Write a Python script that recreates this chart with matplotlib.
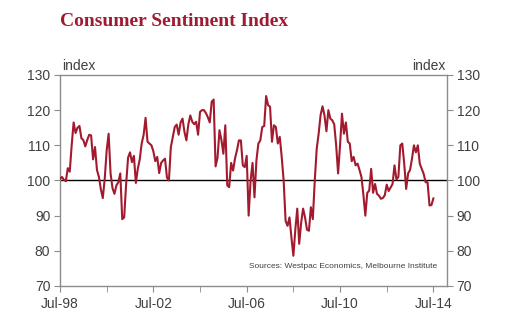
import numpy as np
import matplotlib
matplotlib.use("Agg")
import matplotlib.pyplot as plt

# Westpac-Melbourne Institute consumer sentiment, monthly from Jul-98 to Jul-14
y1998 = [100.5, 101, 100.2, 99.8, 103.5, 102.5]
y1999 = [110, 116.5, 113.5, 115, 115.5, 112, 111.5, 109.7, 111.5, 113, 112.8, 106]
y2000 = [109.5, 103, 101, 97.5, 95, 100.5, 108.6, 113.3, 102, 97.8, 96.2, 98.6]
y2001 = [99.5, 102, 89, 89.5, 99, 106.5, 108, 105.2, 107, 99.3, 103.3, 106]
y2002 = [110.5, 113, 117.8, 111, 110.5, 110, 108.3, 105.5, 106.7, 102.1, 105, 105.7]
y2003 = [106.2, 100.8, 100, 109.5, 112.4, 115.2, 115.9, 113, 116.5, 117.6, 113.8, 111.4]
y2004 = [116, 118.5, 116.7, 116, 116.7, 113, 119.5, 120, 120, 119.2, 118, 116.5]
y2005 = [122.4, 123, 104, 106.5, 114.3, 111.5, 107.6, 115.7, 98.6, 98.1, 105, 102.8]
y2006 = [106.3, 108.6, 111.4, 111.4, 104.3, 103.8, 107, 90, 100, 105, 95.2, 105.7]
y2007 = [110.5, 111.4, 115.2, 115.5, 124, 121.4, 121, 111, 115.7, 115.2, 110.5, 112.4]
y2008 = [106.7, 100, 88.5, 87.1, 89.5, 83.8, 78.6, 86, 92, 82, 88, 92]
y2009 = [89.5, 86, 85.7, 92.4, 89, 100, 109, 113.3, 118.6, 121.1, 118.5, 114]
y2010 = [120, 117.6, 117.1, 116, 110, 102, 110, 119, 113.3, 116.5, 111, 110.5]
y2011 = [105.5, 106.7, 104.3, 104.8, 103, 101, 96, 90, 96.5, 97.1, 103.3, 96.5]
y2012 = [99, 96.2, 95.7, 94.8, 95, 95.8, 98.8, 97, 98, 99, 104.3, 100.3]
y2013 = [101, 110, 110.5, 104.8, 97.6, 102, 103, 106.2, 110, 108, 110, 104.8]
y2014 = [103.3, 101.9, 99.5, 99.5, 92.9, 93, 94.9]

tick_pos = [0, 48, 96, 144, 192]
tick_labels = ["Jul-98", "Jul-02", "Jul-06", "Jul-10", "Jul-14"]

sentiment = np.array(y1998 + y1999 + y2000 + y2001 + y2002 + y2003 + y2004 + y2005
                     + y2006 + y2007 + y2008 + y2009 + y2010 + y2011 + y2012 + y2013 + y2014)
months = np.arange(len(sentiment))

red = "#a31a2f"
grey = "#8c8c8c"
txt = "#404040"
plt.rcParams["font.family"] = ["Liberation Sans", "DejaVu Sans"]

fig = plt.figure(figsize=(5.06, 3.31), dpi=100)
ax = fig.add_axes([0.1186, 0.136, 0.7648, 0.6375])

ax.axhline(100, color="black", lw=1.0, zorder=2)
ax.plot(months, sentiment, color=red, lw=1.5, zorder=3)

ax.set_xlim(0, 199)
ax.set_ylim(70, 130)
ax.set_yticks(np.arange(70, 131, 10))
ax.set_xticks(tick_pos)
ax.set_xticklabels(tick_labels)
ax.set_xticks([24, 72, 120, 168], minor=True)

for s in ax.spines.values():
    s.set_color(grey)
    s.set_linewidth(1.0)

ax.tick_params(axis="y", which="both", direction="out", length=4, color=grey,
               labelsize=10, labelcolor=txt, left=True, right=True,
               labelleft=True, labelright=True, pad=3)
ax.tick_params(axis="x", which="both", direction="out", length=4, color=grey,
               labelsize=10, labelcolor=txt, pad=4)

fig.text(0.1186, 0.935, "Consumer Sentiment Index", family="Liberation Serif",
         fontweight="bold", fontsize=14, color="#9e1b32", ha="left", va="center")
fig.text(0.123, 0.8, "index", fontsize=10, color=txt, ha="left", va="center")
fig.text(0.88, 0.8, "index", fontsize=10, color=txt, ha="right", va="center")
ax.text(0.974, 0.09, "Sources: Westpac Economics, Melbourne Institute", transform=ax.transAxes,
        fontsize=6.0, color=txt, ha="right", va="center")

fig.savefig("out.png", dpi=100)
